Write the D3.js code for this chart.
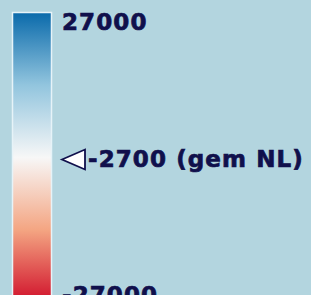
<!DOCTYPE html>
<html><head><meta charset="utf-8">
<script src="https://cdn.jsdelivr.net/npm/d3@7"></script>
<style>html,body{margin:0;padding:0;background:#b3d5df;overflow:hidden}</style>
</head><body>
<svg id="c" width="311" height="295"></svg>
<script>
const labels = ["27000", "-2700 (gem NL)", "-27000"];
const values = [27000, -2700, -27000];
const markerIndex = [1];
const colorStops = ["#0a6aab", "#92c5de", "#f7f7f7", "#f4a582", "#d0102a"];

const svg = d3.select("#c");
const defs = svg.append("defs");
const grad = defs.append("linearGradient").attr("id","g").attr("x1",0).attr("y1",0).attr("x2",0).attr("y2",1);
const stopScale = d3.scaleLinear().domain([0, colorStops.length-1]).range([0,1]);
colorStops.forEach((c,i)=>grad.append("stop").attr("offset",stopScale(i)).attr("stop-color",c));

svg.append("rect").attr("x",12.5).attr("y",12.5).attr("width",39).attr("height",290)
  .attr("fill","url(#g)").attr("stroke","#e6f3f8").attr("stroke-width",1.5);

const y = d3.scalePoint().domain(labels).range([30, 303]);
const txt = "#10104c";
svg.selectAll("text.l").data(labels).join("text")
  .attr("x",(d,i)=> markerIndex.includes(i) ? 88 : 62)
  .attr("y",d=>y(d))
  .attr("fill",txt)
  .attr("stroke",txt).attr("stroke-width",0.7)
  .style("font-family","'DejaVu Sans', Verdana, sans-serif")
  .style("font-weight","bold").style("font-size","23px")
  .style("letter-spacing","1.1px")
  .text(d=>d);

markerIndex.forEach(i=>{
  const cy = y(labels[i]) - 7;
  svg.append("path").attr("d",`M62,${cy} L85,${cy-10} L85,${cy+10} Z`)
    .attr("fill","#ffffff").attr("stroke",txt).attr("stroke-width",1.8).attr("stroke-linejoin","miter");
});
</script>
</body></html>
